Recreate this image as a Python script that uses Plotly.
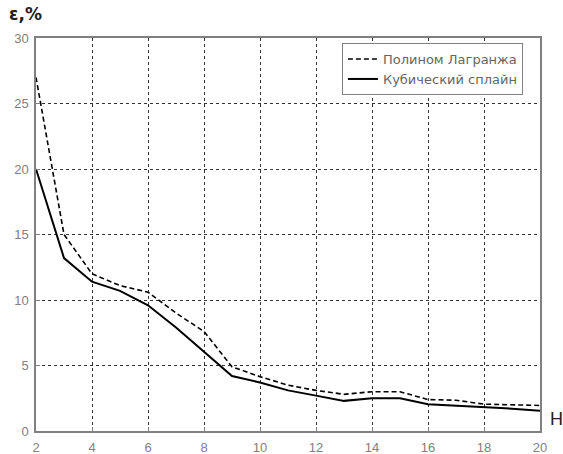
import plotly.graph_objects as go

n_values = [2, 3, 4, 5, 6, 7, 8, 9, 10, 11, 12, 13, 14, 15, 16, 17, 18, 19, 20]
lagrange = [27.0, 15.0, 12.0, 11.1, 10.6, 9.0, 7.6, 4.9, 4.15, 3.5, 3.1, 2.8, 3.0, 3.0, 2.4, 2.35, 2.05, 2.0, 1.95]
spline = [20.0, 13.2, 11.4, 10.7, 9.6, 7.9, 6.05, 4.2, 3.7, 3.1, 2.7, 2.3, 2.5, 2.5, 2.05, 1.95, 1.85, 1.7, 1.55]
x_ticks = [2, 4, 6, 8, 10, 12, 14, 16, 18, 20]
y_ticks = [0, 5, 10, 15, 20, 25, 30]
names = ["Полином Лагранжа", "Кубический сплайн"]

fig = go.Figure()
fig.add_trace(go.Scatter(x=n_values, y=lagrange, mode="lines", name=names[0],
                         line=dict(color="black", width=1.6, dash="5px,3px")))
fig.add_trace(go.Scatter(x=n_values, y=spline, mode="lines", name=names[1],
                         line=dict(color="black", width=2)))

axis_common = dict(showline=True, linecolor="#808080", linewidth=1.5, mirror=True,
                   showgrid=True, gridcolor="#333333", griddash="dot", gridwidth=1,
                   ticks="inside", ticklen=4, tickcolor="#808080", zeroline=False,
                   automargin=False,
                   tickfont=dict(family="Liberation Sans, Arial", size=13, color="#808080"))

fig.update_xaxes(range=[2, 20], tickvals=x_ticks, ticklabelstandoff=4, **axis_common)
fig.update_yaxes(range=[0, 30], tickvals=y_ticks, ticklabelstandoff=3, **axis_common)

fig.update_layout(
    width=563, height=454,
    margin=dict(l=36, r=23, t=38, b=23),
    plot_bgcolor="white", paper_bgcolor="white",
    showlegend=True,
    legend=dict(x=0.607, y=0.987, xanchor="left", yanchor="top",
                bgcolor="white", bordercolor="#808080", borderwidth=1,
                font=dict(family="DejaVu Sans, Arial", size=13, color="#666666"),
                tracegroupgap=0, itemwidth=30),
    annotations=[
        dict(text="<b>ε,%</b>", xref="paper", yref="paper", x=-0.058, y=1.06,
             xanchor="left", yanchor="middle", showarrow=False,
             font=dict(family="DejaVu Sans, Arial", size=17, color="#222222")),
        dict(text="H", xref="paper", yref="paper", x=1.016, y=0.03,
             xanchor="left", yanchor="middle", showarrow=False,
             font=dict(family="Liberation Sans, Arial", size=18, color="#222222")),
    ],
)

fig.write_html("out.html")
